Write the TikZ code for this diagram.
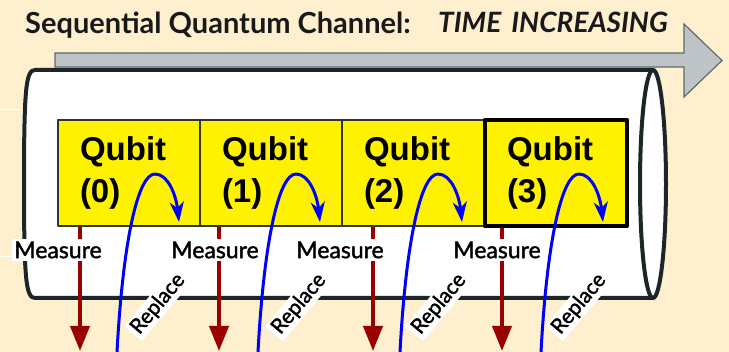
\documentclass[tikz,border=0pt]{standalone}
\usepackage{fontspec}
\setmainfont{Lato}
\newfontfamily\labelfont{Lato}[FakeBold=1.6]
\newfontfamily\qubitfont{Liberation Sans}
\usetikzlibrary{arrows.meta}
\definecolor{cream}{RGB}{254,240,206}
\definecolor{tubeline}{RGB}{28,37,39}
\definecolor{arrowgray}{RGB}{189,195,199}
\definecolor{arrowedge}{RGB}{95,106,106}
\definecolor{measred}{RGB}{153,0,0}
\tikzset{
  titletext/.style={inner sep=0pt, text=black!90, font=\bfseries\fontsize{29}{32}\selectfont},
  timearrow/.style={fill=arrowgray, draw=arrowedge, line width=1.2pt, line join=miter},
  tube/.style={draw=tubeline, fill=white, line width=4pt},
  qubitbox/.style={draw=black!80, line width=1.5pt, fill=yellow, minimum width=142pt,
    minimum height=106pt, inner xsep=22pt, text width=98pt, align=left,
    font=\qubitfont\bfseries\fontsize{33}{42}\selectfont},
  measurearrow/.style={draw=measred, line width=4pt, -{Triangle[length=25pt,width=19pt]}},
  replacearrow/.style={draw=blue, line width=3pt, line cap=round, -{Stealth[length=20pt,width=14pt,inset=6pt]}},
  measurelabel/.style={fill=white, inner xsep=2pt, inner ysep=3pt, font=\labelfont\fontsize{23}{26}\selectfont},
  replacelabel/.style={fill=white, inner xsep=3pt, inner ysep=2pt, font=\labelfont\fontsize{21}{24}\selectfont}
}
\begin{document}
\begin{tikzpicture}[x=1pt, y=-1pt, line join=round]
  \def\W{729} \def\H{352}
  \fill[cream] (0,0) rectangle (\W,\H);
  \useasboundingbox (0,0) rectangle (\W,\H);
  \draw[white, line width=1pt] (0,110) -| (22,257) -- (0,257);
  % time arrow and title
  \draw[timearrow] (55,53) -- (684,53) -- (684,24) -- (722,60.5) -- (684,97) -- (684,67) -- (55,67) -- cycle;
  \node[titletext, anchor=base west] (title) at (25,34) {Sequential Quantum Channel:};
  \node[titletext, anchor=base west, font=\bfseries\itshape\fontsize{28}{32}\selectfont] (time) at (438,33) {TIME\hspace{10pt}INCREASING};
  % channel
  \draw[tube] (653,298) -- (35,298) .. controls (26,298) and (24,280) .. (24,184)
    .. controls (24,88) and (26,70) .. (35,70) -- (653,70);
  \draw[tube] (653,184) ellipse [x radius=13, y radius=114];
  % qubits
  \foreach \i/\cx in {0/129,1/271,2/413}
    \node[qubitbox] (q\i) at (\cx,173) {Qubit\\(\i)};
  \node[qubitbox, draw=black, line width=4.5pt] (q3) at (556,173) {Qubit\\(3)};
  % measure
  \foreach \i/\mx in {0/80,1/219,2/373,3/502} {
    \coordinate (m\i) at (\mx,351);
    \draw[measurearrow] (q\i.south -| m\i) -- (m\i);
  }
  \foreach \i/\lx in {0/58,1/215,2/340,3/497}
    \node[measurelabel] (ml\i) at (\lx,250) {Measure};
  % replace
  \foreach \i/\bx in {0/117,1/258,2/400,3/541} {
    \coordinate (b\i) at (\bx,352);
    \coordinate (t\i) at (\bx+62,222);
    \draw[replacearrow] (b\i) .. controls +(6,-112) and +(-17,0) .. (\bx+38,174)
      .. controls +(13,0) and +(-3,-27) .. (t\i);
  }
  \foreach \i/\rx in {0/158,1/299,2/439,3/579}
    \node[replacelabel, rotate=50] (rl\i) at (\rx,304) {Replace};
\end{tikzpicture}
\end{document}
